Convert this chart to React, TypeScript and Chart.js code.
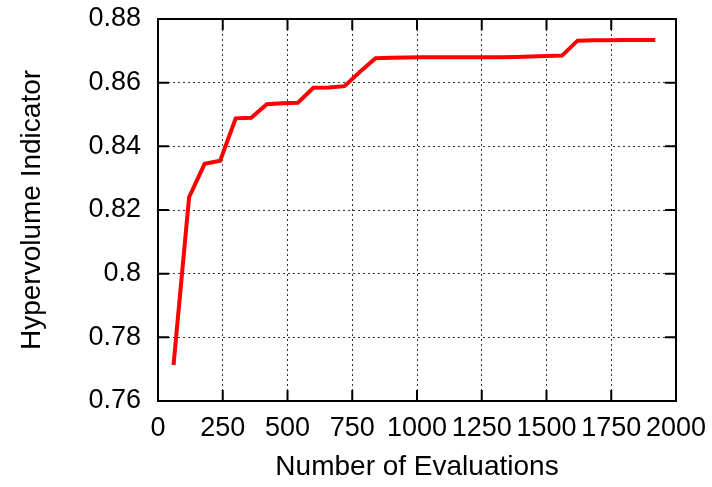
import React, { useEffect, useRef } from "react";
import { Chart, registerables } from "chart.js";

Chart.register(...registerables);

const evaluations = [
  60, 120, 180, 240, 300, 360, 420, 480, 540, 600, 660, 720, 780, 840, 900, 960,
  1020, 1080, 1140, 1200, 1260, 1320, 1380, 1440, 1500, 1560, 1620, 1680, 1740, 1800, 1860, 1920,
];
const hypervolume = [
  0.7713, 0.824, 0.8345, 0.8355, 0.8488, 0.849, 0.8532, 0.8535, 0.8537, 0.8584, 0.8585, 0.8589,
  0.8634, 0.8677, 0.8678, 0.8679, 0.868, 0.868, 0.868, 0.868, 0.868, 0.868, 0.8681, 0.8682,
  0.8684, 0.8685, 0.8732, 0.8733, 0.8733, 0.8734, 0.8734, 0.8734,
];
const xTicks = [0, 250, 500, 750, 1000, 1250, 1500, 1750, 2000];
const yTicks = [0.76, 0.78, 0.8, 0.82, 0.84, 0.86, 0.88];

const FONT = "'Liberation Sans', Arial, Helvetica, sans-serif";

const framePlugin = {
  id: "gnuplotFrame",
  beforeDatasetsDraw(chart: any) {
    const { ctx, chartArea } = chart;
    const { left, right, top, bottom } = chartArea;
    const xs = chart.scales.x;
    const ys = chart.scales.y;
    const len = 11;
    ctx.save();
    ctx.strokeStyle = "#000";
    ctx.lineWidth = 2;
    ctx.beginPath();
    xTicks.forEach((v) => {
      if (v === xTicks[0] || v === xTicks[xTicks.length - 1]) return;
      const px = xs.getPixelForValue(v);
      ctx.moveTo(px, bottom);
      ctx.lineTo(px, bottom - len);
      ctx.moveTo(px, top);
      ctx.lineTo(px, top + len);
    });
    yTicks.forEach((v) => {
      if (v === yTicks[0] || v === yTicks[yTicks.length - 1]) return;
      const py = ys.getPixelForValue(v);
      ctx.moveTo(left, py);
      ctx.lineTo(left + len, py);
      ctx.moveTo(right, py);
      ctx.lineTo(right - len, py);
    });
    ctx.stroke();
    ctx.strokeRect(left, top, right - left, bottom - top);
    ctx.restore();
  },
};

export default function App() {
  const ref = useRef<HTMLCanvasElement | null>(null);
  useEffect(() => {
    document.body.style.margin = "0";
    if (!ref.current) return;
    const chart = new Chart(ref.current, {
      type: "line",
      data: {
        datasets: [
          {
            data: evaluations.map((x, i) => ({ x, y: hypervolume[i] })),
            borderColor: "#ff0000",
            borderWidth: 4,
            pointRadius: 0,
            fill: false,
            tension: 0,
          },
        ],
      },
      options: {
        animation: false,
        responsive: false,
        maintainAspectRatio: false,
        layout: { padding: 0 },
        plugins: { legend: { display: false }, tooltip: { enabled: false } },
        scales: {
          x: {
            type: "linear",
            min: 0,
            max: 2000,
            afterBuildTicks: (s: any) => {
              s.ticks = xTicks.map((v) => ({ value: v }));
            },
            afterFit: (s: any) => {
              s.height = 86;
              s.paddingLeft = 0;
              s.paddingRight = 36;
            },
            ticks: {
              autoSkip: false,
              maxRotation: 0,
              minRotation: 0,
              padding: 11,
              color: "#000",
              font: { family: FONT, size: 27 },
              callback: (v: any) => String(v),
            },
            grid: {
              drawTicks: false,
              color: (c: any) =>
                c.tick && (c.tick.value === 0 || c.tick.value === 2000) ? "rgba(0,0,0,0)" : "#333",
              lineWidth: 1,
            },
            border: { display: false, dash: [2, 3] },
            title: {
              display: true,
              text: "Number of Evaluations",
              color: "#000",
              font: { family: FONT, size: 28 },
              padding: { top: 0, bottom: 3 },
            },
          },
          y: {
            type: "linear",
            min: 0.76,
            max: 0.88,
            afterBuildTicks: (s: any) => {
              s.ticks = yTicks.map((v) => ({ value: v }));
            },
            afterFit: (s: any) => {
              s.width = 158;
              s.paddingTop = 19;
              s.paddingBottom = 0;
            },
            ticks: {
              autoSkip: false,
              padding: 17,
              color: "#000",
              font: { family: FONT, size: 27 },
              callback: (v: any) => String(Number(Number(v).toFixed(2))),
            },
            grid: {
              drawTicks: false,
              color: (c: any) =>
                c.tick && (Math.abs(c.tick.value - 0.76) < 1e-9 || Math.abs(c.tick.value - 0.88) < 1e-9)
                  ? "rgba(0,0,0,0)"
                  : "#333",
              lineWidth: 1,
            },
            border: { display: false, dash: [2, 3] },
            title: {
              display: true,
              text: "Hypervolume Indicator",
              color: "#000",
              font: { family: FONT, size: 28 },
              padding: { top: 15, bottom: 0 },
            },
          },
        },
      },
      plugins: [framePlugin],
    } as any);
    return () => chart.destroy();
  }, []);
  return <canvas ref={ref} width={712} height={487} style={{ display: "block" }} />;
}
